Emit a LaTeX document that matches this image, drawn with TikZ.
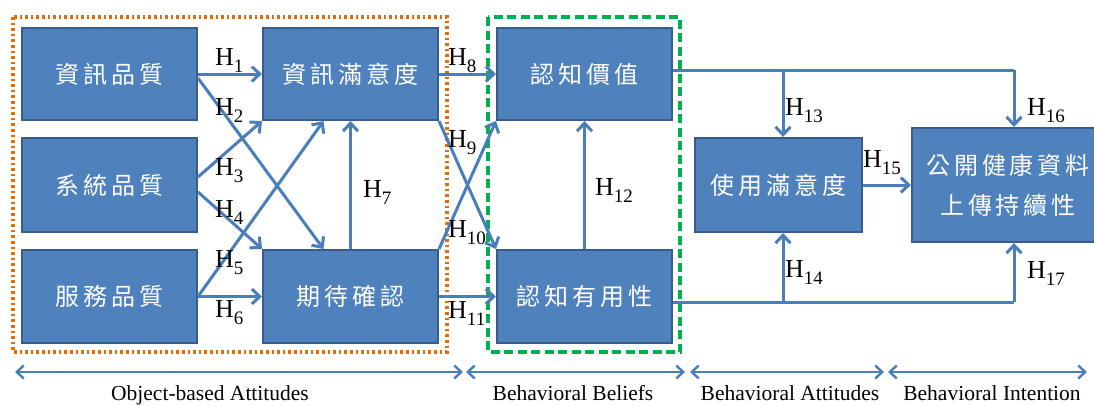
\documentclass[tikz,border=0pt]{standalone}
\usepackage{fontspec}
\setmainfont{Liberation Serif}
\newfontfamily\cjk[LetterSpace=16]{Noto Sans CJK TC}
\usetikzlibrary{arrows.meta,calc}

\definecolor{boxfill}{HTML}{4F81BD}
\definecolor{boxline}{HTML}{385D8A}
\definecolor{linkblue}{HTML}{4A7EBB}
\definecolor{dotorange}{HTML}{E46C0A}
\definecolor{dashgreen}{HTML}{00B050}

% hypothesis label: H with a lowered index
\newcommand{\hyplab}[1]{H\raisebox{-7.5pt}{\fontsize{19}{19}\selectfont #1}}

\tikzset{
  box/.style={draw=boxline, fill=boxfill, line width=2pt,
    minimum width=175pt, minimum height=92pt, inner sep=0pt,
    text=white, align=center, font=\cjk\fontsize{24}{40}\selectfont},
  link/.style={draw=linkblue, line width=3pt,
    -{Straight Barb[length=8pt,width=15pt]}},
  plainlink/.style={draw=linkblue, line width=3pt},
  hl/.style={anchor=base west, inner sep=0pt, font=\fontsize{26}{26}\selectfont},
  span/.style={draw=linkblue, line width=2.4pt,
    {Straight Barb[length=7pt,width=13pt]}-{Straight Barb[length=7pt,width=13pt]}},
  spanlab/.style={anchor=base, inner sep=0pt, font=\fontsize{21.5}{21.5}\selectfont},
}

\begin{document}
\begin{tikzpicture}[x=1pt,y=-1pt]
\useasboundingbox (0,0) rectangle (1094,405);

% group frames
\draw[dotorange, line width=3.2pt, dash pattern=on 2.6pt off 3pt] (13,17) rectangle (447,352);
\draw[dashgreen, line width=3.2pt, dash pattern=on 9pt off 4.5pt] (488,17) rectangle (680,352);

% constructs
\node[box] (iq)  at (109.5,74)    {資訊品質};
\node[box, minimum height=94pt] (sq) at (109.5,185) {系統品質};
\node[box, minimum height=93pt] (svq) at (109.5,296.5) {服務品質};
\node[box] (is)  at (350.5,74)    {資訊滿意度};
\node[box, minimum height=93pt] (ec) at (350.5,296.5) {期待確認};
\node[box] (pv)  at (584.5,74)    {認知價值};
\node[box, minimum height=93pt] (pu) at (584.5,296.5) {認知有用性};
\node[box, minimum width=167pt, minimum height=94pt] (us) at (778.5,185) {使用滿意度};
\node[box, minimum width=192pt, minimum height=114pt] (ci) at (1008,185) {公開健康資料\\上傳持續性};

% object-based attitudes
\draw[link] (iq.east) -- (is.west);
\draw[link] ($(iq.east)+(0,4)$) -- ($(ec.north)+(-27,0)$);
\draw[link] ($(sq.east)+(0,-8)$) -- (is.south west);
\draw[link] ($(sq.east)+(0,7)$) -- (ec.north west);
\draw[link] (svq.east) -- ($(is.south)+(-27,0)$);
\draw[link] (svq.east) -- (ec.west);
\draw[link] (ec.north) -- (is.south);

% behavioural beliefs
\draw[link] (is.east) -- (pv.west);
\draw[link] (is.south east) -- (pu.north west);
\draw[link] (ec.north east) -- (pv.south west);
\draw[link] (ec.east) -- (pu.west);
\draw[link] (pu.north) -- (pv.south);

% attitudes and intention
\coordinate (ta) at (783,70);
\coordinate (tb) at (1014,70);
\coordinate (ba) at (783,302);
\coordinate (bb) at (1014,302);
\draw[plainlink] (pv.east |- ta) -- (ta) -- (tb);
\draw[link] (ta) -- (us.north -| ta);
\draw[link] (tb) -- (ci.north -| tb);
\draw[plainlink] (pu.east |- ba) -- (ba) -- (bb);
\draw[link] (ba) -- (us.south -| ba);
\draw[link] (bb) -- (ci.south -| bb);
\draw[link] (us.east) -- (us.east -| ci.west);

% hypothesis labels
\node[hl] (h1)  at (215,65)  {\hyplab{1}};
\node[hl] (h2)  at (215,115) {\hyplab{2}};
\node[hl] (h3)  at (215,175) {\hyplab{3}};
\node[hl] (h4)  at (215,217) {\hyplab{4}};
\node[hl] (h5)  at (215,267) {\hyplab{5}};
\node[hl] (h6)  at (215,317) {\hyplab{6}};
\node[hl] (h7)  at (363,197) {\hyplab{7}};
\node[hl] (h8)  at (448,65)  {\hyplab{8}};
\node[hl] (h9)  at (448,147) {\hyplab{9}};
\node[hl] (h10) at (448,237) {\hyplab{10}};
\node[hl] (h11) at (448,318) {\hyplab{11}};
\node[hl] (h12) at (595,195) {\hyplab{12}};
\node[hl] (h13) at (785,115) {\hyplab{13}};
\node[hl] (h14) at (785,277) {\hyplab{14}};
\node[hl] (h15) at (863,167) {\hyplab{15}};
\node[hl] (h16) at (1027,115) {\hyplab{16}};
\node[hl] (h17) at (1027,278) {\hyplab{17}};

% stage spans
\coordinate (s1a) at (15,372);  \coordinate (s1b) at (463,372);
\coordinate (s2a) at (466,372); \coordinate (s2b) at (685,372);
\coordinate (s3a) at (690,372); \coordinate (s3b) at (884,372);
\coordinate (s4a) at (888,372); \coordinate (s4b) at (1087,372);
\draw[span] (s1a) -- (s1b);
\draw[span] (s2a) -- (s2b);
\draw[span] (s3a) -- (s3b);
\draw[span] (s4a) -- (s4b);
\node[spanlab] (l1) at (210,400) {Object-based Attitudes};
\node[spanlab] (l2) at (573,400) {Behavioral Beliefs};
\node[spanlab] (l3) at (790,400) {Behavioral Attitudes};
\node[spanlab] (l4) at (992,400) {Behavioral Intention};
\end{tikzpicture}
\end{document}
